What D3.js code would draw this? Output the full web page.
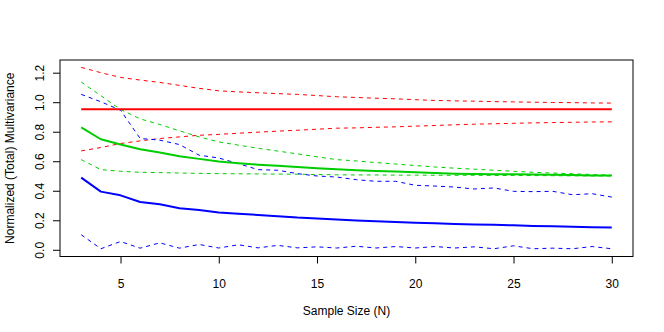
<!DOCTYPE html>
<html>
<head>
<meta charset="utf-8">
<script src="https://cdn.jsdelivr.net/npm/d3@7"></script>
<style>
  html, body { margin: 0; padding: 0; background: #fff; }
  svg text { font-family: "Liberation Sans", Arial, Helvetica, sans-serif; fill: #000; }
</style>
</head>
<body>
<svg id="chart" width="664" height="332"></svg>
<script>
// ---- data ----
const sampleSize = d3.range(3, 31); // 3..30
const xTicks = [5, 10, 15, 20, 25, 30];
const yTicks = [0.0, 0.2, 0.4, 0.6, 0.8, 1.0, 1.2];

const redMean  = [0.953,0.953,0.953,0.953,0.953,0.953,0.953,0.953,0.953,0.953,0.953,0.953,0.953,0.953,0.953,0.953,0.953,0.953,0.953,0.953,0.953,0.953,0.953,0.953,0.953,0.953,0.953,0.953];
const redUpper = [1.236,1.200,1.168,1.150,1.134,1.114,1.094,1.077,1.070,1.064,1.058,1.053,1.045,1.037,1.032,1.027,1.023,1.017,1.012,1.009,1.007,1.004,1.002,1.000,0.998,0.997,0.995,0.994];
const redLower = [0.670,0.693,0.720,0.738,0.754,0.765,0.776,0.782,0.790,0.797,0.804,0.810,0.817,0.824,0.826,0.830,0.833,0.838,0.842,0.847,0.851,0.854,0.857,0.860,0.862,0.864,0.866,0.867];

const greenMean  = [0.829,0.749,0.713,0.681,0.659,0.634,0.616,0.598,0.587,0.577,0.569,0.561,0.553,0.546,0.539,0.534,0.530,0.525,0.520,0.516,0.514,0.512,0.511,0.510,0.508,0.506,0.504,0.503];
const greenUpper = [1.137,1.044,0.951,0.887,0.849,0.806,0.765,0.731,0.709,0.688,0.669,0.650,0.630,0.611,0.602,0.591,0.581,0.571,0.561,0.553,0.546,0.539,0.532,0.525,0.520,0.515,0.510,0.505];
const greenLower = [0.611,0.543,0.532,0.525,0.523,0.520,0.518,0.516,0.515,0.514,0.513,0.512,0.510,0.508,0.507,0.507,0.506,0.506,0.505,0.505,0.505,0.504,0.503,0.503,0.502,0.501,0.501,0.500];

const blueMean  = [0.489,0.394,0.369,0.324,0.308,0.281,0.269,0.253,0.245,0.236,0.228,0.218,0.212,0.205,0.199,0.193,0.188,0.183,0.179,0.175,0.172,0.169,0.166,0.162,0.159,0.156,0.153,0.151];
const blueUpper = [1.053,1.003,0.946,0.754,0.743,0.713,0.641,0.622,0.584,0.543,0.539,0.516,0.500,0.493,0.475,0.464,0.464,0.437,0.432,0.425,0.412,0.419,0.396,0.394,0.396,0.373,0.380,0.357];
const blueLower = [0.102,0.007,0.056,0.011,0.047,0.011,0.036,0.012,0.034,0.013,0.030,0.013,0.020,0.012,0.024,0.012,0.022,0.012,0.022,0.012,0.020,0.007,0.027,0.007,0.011,0.007,0.022,0.007];

const xLabel = "Sample Size (N)";
const yLabel = "Normalized (Total) Multivariance";

// ---- layout ----
const svg = d3.select("#chart");
const L = 60, R = 633, T = 60, B = 256.5;
const x = d3.scaleLinear().domain([1.92, 31.08]).range([L, R]);
const y = d3.scaleLinear().domain([-0.0455, 1.286]).range([B, T]);

const line = d3.line().x((d, i) => x(sampleSize[i])).y(d => y(d));

const series = [
  { v: redUpper,   c: "#FF0000", w: 1, dash: "4,4" },
  { v: redLower,   c: "#FF0000", w: 1, dash: "4,4" },
  { v: greenUpper, c: "#00CD00", w: 1, dash: "4,4" },
  { v: greenLower, c: "#00CD00", w: 1, dash: "4,4" },
  { v: blueUpper,  c: "#0000FF", w: 1, dash: "4,4" },
  { v: blueLower,  c: "#0000FF", w: 1, dash: "4,4" },
  { v: redMean,    c: "#FF0000", w: 2, dash: null },
  { v: greenMean,  c: "#00CD00", w: 2, dash: null },
  { v: blueMean,   c: "#0000FF", w: 2, dash: null }
];

const g = svg.append("g");
series.forEach(s => {
  g.append("path")
    .attr("d", line(s.v))
    .attr("fill", "none")
    .attr("stroke", s.c)
    .attr("stroke-width", s.w)
    .attr("stroke-dasharray", s.dash)
    .attr("stroke-linejoin", "round");
});

// box
svg.append("rect")
  .attr("x", L).attr("y", T)
  .attr("width", R - L).attr("height", B - T)
  .attr("fill", "none").attr("stroke", "#000").attr("stroke-width", 1);

// x axis
const xAxis = d3.axisBottom(x).tickValues(xTicks).tickSize(7).tickPadding(0).tickFormat(d3.format("d"));
const gx = svg.append("g").attr("transform", `translate(0,${B})`).call(xAxis);
gx.select(".domain").remove();
gx.selectAll(".tick line").attr("stroke", "#000");
gx.selectAll(".tick text")
  .attr("y", 31).attr("dy", null)
  .style("font-size", "12px")
  .style("font-family", "'Liberation Sans', Arial, sans-serif");

// y axis
const yAxis = d3.axisLeft(y).tickValues(yTicks).tickSize(7).tickFormat(d3.format(".1f"));
const gy = svg.append("g").attr("transform", `translate(${L},0)`).call(yAxis);
gy.select(".domain").remove();
gy.selectAll(".tick line").attr("stroke", "#000");
gy.selectAll(".tick text")
  .attr("x", null).attr("dy", null)
  .attr("text-anchor", "middle")
  .attr("transform", "translate(-16,0) rotate(-90)")
  .style("font-size", "12px")
  .style("font-family", "'Liberation Sans', Arial, sans-serif");

// titles
svg.append("text")
  .attr("x", (L + R) / 2).attr("y", 315)
  .attr("text-anchor", "middle")
  .style("font-size", "12px")
  .text(xLabel);

svg.append("text")
  .attr("transform", `translate(14,${(T + B) / 2}) rotate(-90)`)
  .attr("text-anchor", "middle")
  .style("font-size", "12px")
  .text(yLabel);
</script>
</body>
</html>
